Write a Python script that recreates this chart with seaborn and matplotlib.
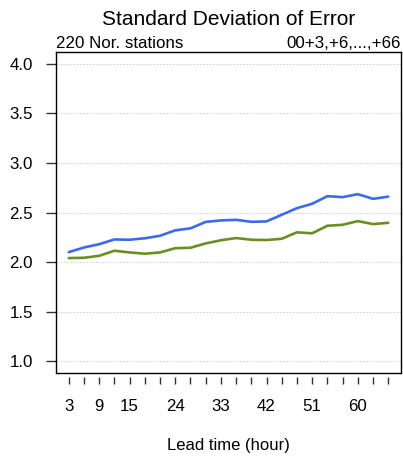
import numpy as np
import pandas as pd
import matplotlib
matplotlib.use("Agg")
import matplotlib.pyplot as plt
import seaborn as sns

lead_hours = [3, 6, 9, 12, 15, 18, 21, 24, 27, 30, 33, 36, 39, 42, 45, 48, 51, 54, 57, 60, 63, 66]
series_a = [2.10, 2.147, 2.18, 2.228, 2.225, 2.24, 2.265, 2.32, 2.34, 2.405, 2.42,
            2.426, 2.406, 2.41, 2.477, 2.544, 2.588, 2.665, 2.655, 2.685, 2.638, 2.66]
series_b = [2.04, 2.043, 2.063, 2.114, 2.097, 2.084, 2.097, 2.14, 2.144, 2.188, 2.22,
            2.242, 2.225, 2.222, 2.235, 2.30, 2.29, 2.366, 2.376, 2.413, 2.383, 2.396]
series_names = ["A", "B"]
x_tick_labels = [3, 9, 15, 24, 33, 42, 51, 60]
y_ticks = [1.0, 1.5, 2.0, 2.5, 3.0, 3.5, 4.0]

df = pd.DataFrame({
    "lead": lead_hours * 2,
    "value": series_a + series_b,
    "series": [series_names[0]] * len(lead_hours) + [series_names[1]] * len(lead_hours),
})

sns.set_theme(style="white")
plt.rcParams["font.family"] = ["Liberation Sans", "DejaVu Sans"]
plt.rcParams["text.color"] = "black"
plt.rcParams["axes.labelcolor"] = "black"

fig = plt.figure(figsize=(4.03, 4.59), dpi=100)
ax = fig.add_axes([56/403, 1 - 373/459, 345/403, 321/459])

sns.lineplot(data=df, x="lead", y="value", hue="series",
             palette=["#3D6AE8", "#6B8E23"], linewidth=1.9, ax=ax, legend=False)

ax.set_xlim(0.48, 68.52)
ax.set_ylim(0.88, 4.12)
ax.set_yticks(y_ticks)
ax.set_yticklabels([f"{v:.1f}" for v in y_ticks])
ax.set_xticks(lead_hours)
ax.set_xticklabels([str(h) if h in x_tick_labels else "" for h in lead_hours])

for y in y_ticks:
    ax.axhline(y, color="#d4d4d4", lw=0.8, ls=(0, (1.5, 1.5)), zorder=0)

for s in ["left", "top", "right"]:
    ax.spines[s].set_visible(True)
    ax.spines[s].set_color("black")
    ax.spines[s].set_linewidth(1.0)
ax.spines["bottom"].set_visible(False)
ax.spines["bottom"].set_position(("outward", 3))
ax.plot([0, 1], [0, 0], transform=ax.transAxes, color="black", lw=1.0, clip_on=False)

ax.tick_params(axis="y", which="both", left=True, length=7.5, width=1.0, color="#333333",
               pad=9, labelsize=12.2, labelcolor="black")
ax.tick_params(axis="x", which="both", bottom=True, length=5, width=1.0, color="#333333",
               pad=11, labelsize=12.2, labelcolor="black")

ax.set_xlabel("Lead time (hour)", fontsize=12, labelpad=17, color="black")
ax.set_ylabel("")
ax.grid(False)

fig.text(228.5/403, 1 - 25/459, "Standard Deviation of Error", ha="center", va="baseline",
         fontsize=15, color="black")
ax.annotate("220 Nor. stations", xy=(0.0, 1.0), xycoords="axes fraction",
            xytext=(0, 2.8), textcoords="offset points", ha="left", va="baseline",
            fontsize=12.2, color="black")
ax.annotate("00+3,+6,...,+66", xy=(1.0, 1.0), xycoords="axes fraction",
            xytext=(0, 2.8), textcoords="offset points", ha="right", va="baseline",
            fontsize=12.2, color="black")

fig.savefig("out.png", dpi=100, facecolor="white")
